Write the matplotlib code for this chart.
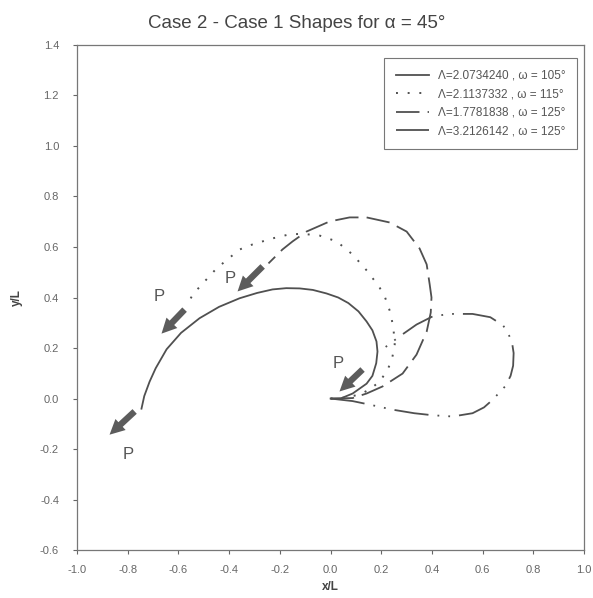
import matplotlib
matplotlib.use("Agg")
import matplotlib.pyplot as plt
import numpy as np

plt.rcParams['font.family'] = ['Liberation Sans', 'DejaVu Sans']
plt.rcParams['axes.unicode_minus'] = False

# shapes (x/L, y/L)
solid_x = [0, 0.039, 0.087, 0.142, 0.165, 0.18, 0.185, 0.181, 0.165, 0.142, 0.11, 0.07, 0.03,
           -0.016, -0.07, -0.122, -0.175, -0.229, -0.29, -0.359, -0.44, -0.517, -0.59, -0.647,
           -0.69, -0.714, -0.735, -0.746]
solid_y = [0, 0.0, 0.02, 0.059, 0.09, 0.14, 0.186, 0.226, 0.27, 0.305, 0.345, 0.378, 0.400,
           0.416, 0.430, 0.436, 0.437, 0.432, 0.418, 0.397, 0.363, 0.318, 0.26, 0.195,
           0.12, 0.067, 0.01, -0.04]

dot_x = [0, 0.06, 0.114, 0.154, 0.193, 0.221, 0.241, 0.253, 0.248, 0.236, 0.215, 0.193,
         0.146, 0.087, 0.024, -0.043, -0.110, -0.162, -0.229, -0.308, -0.359, -0.45,
         -0.544, -0.568]
dot_y = [0, 0.004, 0.016, 0.036, 0.067, 0.107, 0.150, 0.214, 0.277, 0.340, 0.400, 0.440,
         0.503, 0.570, 0.622, 0.645, 0.652, 0.650, 0.634, 0.610, 0.59, 0.515,
         0.412, 0.364]

dash_x = [0, 0.087, 0.142, 0.205, 0.284, 0.339, 0.379, 0.395, 0.398, 0.391, 0.379, 0.351,
          0.300, 0.233, 0.142, 0.075, -0.004, -0.095, -0.150, -0.19, -0.245]
dash_y = [0, 0.002, 0.02, 0.048, 0.099, 0.174, 0.265, 0.34, 0.40, 0.451, 0.531, 0.594,
          0.661, 0.697, 0.717, 0.717, 0.701, 0.661, 0.622, 0.59, 0.535]

dd_x = [0, 0.087, 0.154, 0.245, 0.33, 0.402, 0.481, 0.560, 0.605, 0.639, 0.69, 0.71, 0.72,
        0.722, 0.716, 0.70, 0.68, 0.63, 0.56, 0.469, 0.402, 0.339, 0.272, 0.193]
dd_y = [0, -0.01, -0.024, -0.044, -0.058, -0.066, -0.071, -0.058, -0.035, -0.005, 0.05, 0.09,
        0.13, 0.18, 0.22, 0.26, 0.29, 0.322, 0.335, 0.335, 0.325, 0.293, 0.246, 0.186]

labels = ["\u039b=2.0734240 , \u03c9 = 105\u00b0",
          "\u039b=2.1137332 , \u03c9 = 115\u00b0",
          "\u039b=1.7781838 , \u03c9 = 125\u00b0",
          "\u039b=3.2126142 , \u03c9 = 125\u00b0"]

# load arrows P: start and tip, label position
arrow_x0 = [-0.773, -0.576, -0.268, 0.126]
arrow_y0 = [-0.051, 0.352, 0.523, 0.115]
arrow_x1 = [-0.872, -0.667, -0.367, 0.035]
arrow_y1 = [-0.143, 0.257, 0.424, 0.028]
p_x = [-0.80, -0.675, -0.398, 0.028]
p_y = [-0.22, 0.404, 0.475, 0.139]

x_ticks = [-1.0, -0.8, -0.6, -0.4, -0.2, 0.0, 0.2, 0.4, 0.6, 0.8, 1.0]
y_ticks = [-0.6, -0.4, -0.2, 0.0, 0.2, 0.4, 0.6, 0.8, 1.0, 1.2, 1.4]

fig = plt.figure(figsize=(5.93, 5.98), dpi=100)
ax = fig.add_axes([0.130, 0.080, 0.855, 0.845])

lc = '#505050'
ax.plot(solid_x, solid_y, color=lc, lw=1.3, label=labels[0])
ax.plot(dot_x, dot_y, color=lc, lw=1.4, linestyle=(0, (1, 5)), label=labels[1])
ax.plot(dash_x, dash_y, color=lc, lw=1.3, linestyle=(0, (13, 4.5)), label=labels[2])
ax.plot(dd_x, dd_y, color=lc, lw=1.3, linestyle=(0, (19, 5, 1, 5, 1, 5)), label=labels[3])

for i in range(4):
    ax.annotate("", xy=(arrow_x1[i], arrow_y1[i]), xytext=(arrow_x0[i], arrow_y0[i]),
                arrowprops=dict(arrowstyle='simple,head_length=0.9,head_width=0.9,tail_width=0.38',
                                color='#5c5c5c', lw=0, mutation_scale=12,
                                shrinkA=0, shrinkB=0))
    ax.text(p_x[i], p_y[i], "P", fontsize=12, color='#555555', ha='center', va='center')

ax.set_xlim(-1.0, 1.0)
ax.set_ylim(-0.6, 1.4)
ax.set_xticks(x_ticks)
ax.set_yticks(y_ticks)
ax.set_xticklabels(["%.1f" % v for v in x_ticks])
ax.set_yticklabels(["%.1f" % v for v in y_ticks])
ax.tick_params(labelsize=8, colors='#666666', length=3, width=0.8, direction='out')
ax.tick_params(axis='y', pad=10)
ax.tick_params(axis='x', pad=8)
for s in ax.spines.values():
    s.set_color('#777777')
    s.set_linewidth(0.9)

ax.set_xlabel("x/L", fontsize=8.5, fontweight='bold', color='#444444', labelpad=4)
ax.set_ylabel("y/L", fontsize=8.5, fontweight='bold', color='#444444', labelpad=12)

fig.suptitle("Case 2 - Case 1 Shapes for \u03b1 = 45\u00b0", x=0.5, y=0.975,
             fontsize=13.5, color='#444444')

leg = ax.legend(loc='upper right', bbox_to_anchor=(0.986, 0.974), fontsize=8.5,
                frameon=True, fancybox=False, handlelength=2.8, borderpad=1.0,
                labelspacing=0.55, handletextpad=0.7, borderaxespad=0)
leg.get_frame().set_edgecolor('#555555')
leg.get_frame().set_linewidth(0.8)
for t in leg.get_texts():
    t.set_color('#555555')

plt.savefig('out.png', dpi=100)
